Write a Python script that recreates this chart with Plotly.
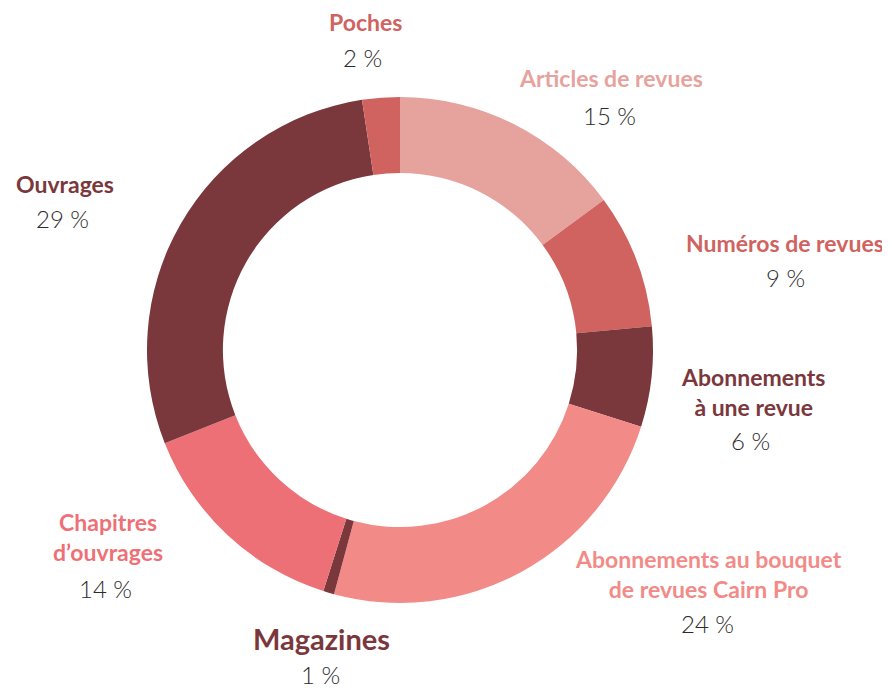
import plotly.graph_objects as go

# ---- data ----
categories = [
    "Articles de revues",
    "Numéros de revues",
    "Abonnements<br>à une revue",
    "Abonnements au bouquet<br>de revues Cairn Pro",
    "Magazines",
    "Chapitres<br>d’ouvrages",
    "Ouvrages",
    "Poches",
]
shares = [14.9, 8.6, 6.4, 24.3, 0.7, 14.1, 28.6, 2.4]
share_labels = ["15 %", "9 %", "6 %", "24 %", "1 %", "14 %", "29 %", "2 %"]
colors = ["#e6a39d", "#d06360", "#7a373c", "#f28b87",
          "#7a373c", "#ee7077", "#7a373c", "#d06360"]

OFF = 8  # page body margin in the browser
W, H = 890 - OFF, 692 - OFF
cx, cy, R = 400 - OFF, 350 - OFF, 253

fig = go.Figure(go.Pie(
    labels=categories,
    values=shares,
    sort=False,
    direction="clockwise",
    rotation=0,
    hole=0.70,
    marker=dict(colors=colors, line=dict(width=0)),
    textinfo="none",
    hoverinfo="label+percent",
    showlegend=False,
    domain=dict(x=[(cx - R) / W, (cx + R) / W],
                y=[(H - cy - R) / H, (H - cy + R) / H]),
))

# label layout (pixel positions of name block centre and percentage centre)
name_pos = [(611, 78), (785, 243), (753, 392), (708, 574),
            (321, 638), (108, 537), (65, 184), (365, 22)]
pct_pos = [(609, 115), (785, 277), (750, 440), (707, 623),
           (320, 674), (105, 588), (62, 218), (362, 58)]
name_size = [23, 23, 23, 23, 29, 23, 23, 23]

annotations = []
for i, name in enumerate(categories):
    nx, ny = name_pos[i]
    px, py = pct_pos[i]
    nx, ny, px, py = nx - OFF, ny - OFF, px - OFF, py - OFF
    annotations.append(dict(
        text=f"<b>{name}</b>", x=nx / W, y=1 - ny / H, xref="paper", yref="paper",
        xanchor="center", yanchor="middle", showarrow=False, align="center",
        font=dict(family="Lato", size=name_size[i], color=colors[i], weight=700),
    ))
    annotations.append(dict(
        text=share_labels[i], x=px / W, y=1 - py / H, xref="paper", yref="paper",
        xanchor="center", yanchor="middle", showarrow=False,
        font=dict(family="Lato", size=24, color="#2b2b2b", weight=300),
    ))

fig.update_layout(
    width=W, height=H,
    margin=dict(l=0, r=0, t=0, b=0),
    paper_bgcolor="white", plot_bgcolor="white",
    annotations=annotations,
)

fig.write_html("out.html")
